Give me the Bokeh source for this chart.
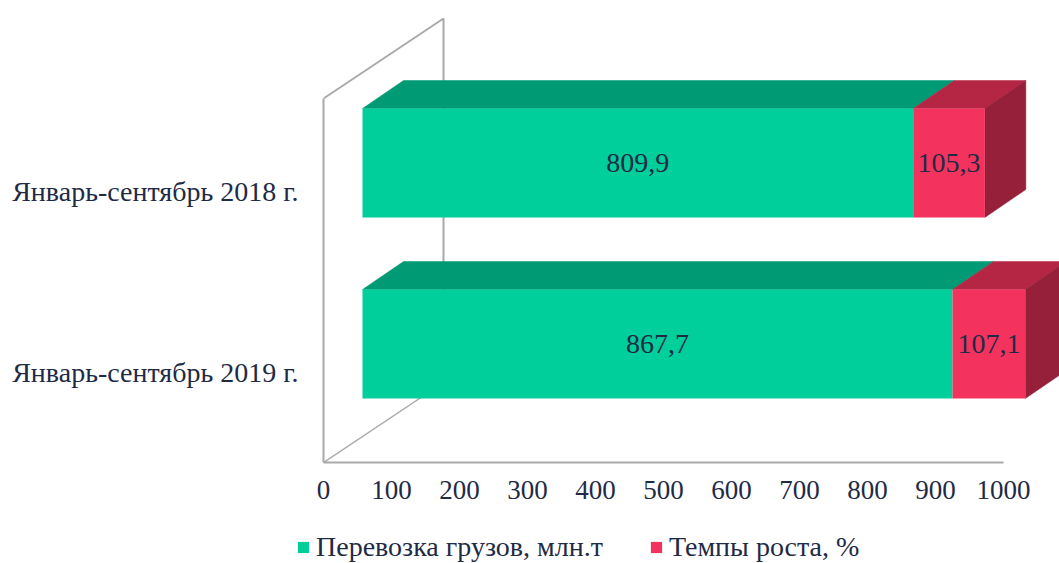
from bokeh.plotting import figure
from bokeh.layouts import column
from bokeh.models import Range1d, FixedTicker, Legend, LegendItem, LinearAxis
from bokeh.core.properties import value
from bokeh.embed import file_html
from bokeh.resources import INLINE

categories = ["Январь-сентябрь 2019 г.", "Январь-сентябрь 2018 г."]
cargo = [867.7, 809.9]
growth = [107.1, 105.3]
series_names = ["Перевозка грузов, млн.т", "Темпы роста, %"]
x_ticks = [0, 100, 200, 300, 400, 500, 600, 700, 800, 900, 1000]

GREEN, GREEN_TOP = "#00CE9B", "#009A75"
RED, RED_TOP, RED_SIDE = "#F3335E", "#B52645", "#961F3A"
WALL = "#A9A9A9"
TEXT = "#1F2B45"
FONT = "Liberation Serif"

PX_PER_X = 0.68
PX_PER_Y = 181.0
W, H = 1059, 563
LEGEND_H = 48
LEFT, BOTTOM = 323, 53
FRAME_W, FRAME_H = W - LEFT, H - LEGEND_H - BOTTOM
Y0 = 343.5  # pixel row of category 0

BAR_H = 109 / PX_PER_Y
SHIFT = 39 / PX_PER_X          # bars stand in the middle of the floor depth
DX = 41 / PX_PER_X             # bar depth
DY = 28 / PX_PER_Y
WALL_DX = 120 / PX_PER_X
WALL_DY = 80 / PX_PER_Y
Y_BOTTOM = (Y0 - FRAME_H) / PX_PER_Y
Y_WALL = (Y0 - 98) / PX_PER_Y

p = figure(frame_width=FRAME_W, frame_height=FRAME_H, output_backend="svg", toolbar_location=None,
           x_range=Range1d(0, FRAME_W / PX_PER_X),
           y_range=Range1d(Y_BOTTOM, Y0 / PX_PER_Y),
           x_axis_location=None, y_axis_location=None,
           min_border_left=LEFT, min_border_bottom=BOTTOM, min_border_top=0, min_border_right=0,
           outline_line_color=None, background_fill_color="white")
p.grid.visible = False

# wall
p.line([0, WALL_DX, WALL_DX], [Y_WALL, Y_WALL + WALL_DY, Y_BOTTOM + WALL_DY], line_color=WALL, line_width=2)
p.line([0, WALL_DX], [Y_BOTTOM, Y_BOTTOM + WALL_DY], line_color=WALL, line_width=1.5)

idx = list(range(len(categories)))
c0 = [SHIFT] * 2
c1 = [SHIFT + v for v in cargo]
c2 = [SHIFT + a + b for a, b in zip(cargo, growth)]
tops = [i + BAR_H / 2 for i in idx]
bots = [i - BAR_H / 2 for i in idx]


def top_face(a, b, t):
    return [a, a + DX, b + DX, b], [t, t + DY, t + DY, t]


tg = [top_face(a, b, t) for a, b, t in zip(c0, c1, tops)]
p.patches([q_[0] for q_ in tg], [q_[1] for q_ in tg], fill_color=GREEN_TOP, line_color=GREEN_TOP, line_width=0.5)
tr = [top_face(a, b, t) for a, b, t in zip(c1, c2, tops)]
p.patches([q_[0] for q_ in tr], [q_[1] for q_ in tr], fill_color=RED_TOP, line_color=RED_TOP, line_width=0.5)
p.patches([[b, b + DX, b + DX, b] for b in c2],
          [[l, l + DY, h + DY, h] for l, h in zip(bots, tops)],
          fill_color=RED_SIDE, line_color=RED_SIDE, line_width=0.5)

p.quad(left=c0, right=c1, bottom=bots, top=tops, fill_color=GREEN, line_color=None)
p.quad(left=c1, right=c2, bottom=bots, top=tops, fill_color=RED, line_color=None)

fmt = lambda v: f"{v:.1f}".replace(".", ",")
p.text(x=[(a + b) / 2 for a, b in zip(c0, c1)], y=idx, text=[fmt(v) for v in cargo],
       text_font=value(FONT), text_font_size="28px", text_color=TEXT,
       text_align="center", text_baseline="middle")
p.text(x=[(a + b) / 2 for a, b in zip(c1, c2)], y=idx, text=[fmt(v) for v in growth],
       text_font=value(FONT), text_font_size="28px", text_color=TEXT,
       text_align="center", text_baseline="middle")

# axes
xa = LinearAxis(ticker=FixedTicker(ticks=x_ticks), bounds=(0, 1000))
xa.axis_line_color = WALL
xa.axis_line_width = 2
xa.major_tick_line_color = None
xa.minor_tick_line_color = None
xa.major_label_standoff = 12
xa.major_label_text_font = FONT
xa.major_label_text_font_size = "27px"
xa.major_label_text_color = TEXT
p.add_layout(xa, "below")

ya = LinearAxis(ticker=FixedTicker(ticks=[i - DY for i in idx]), bounds=(Y_BOTTOM, Y_WALL))
ya.major_label_overrides = {i - DY: c for i, c in zip(idx, categories)}
ya.axis_line_color = WALL
ya.axis_line_width = 2
ya.major_tick_line_color = None
ya.minor_tick_line_color = None
ya.major_label_standoff = 19
ya.major_label_text_font = FONT
ya.major_label_text_font_size = "28px"
ya.major_label_text_color = TEXT
p.add_layout(ya, "left")

# legend strip under the chart
q = figure(width=W, height=LEGEND_H, output_backend="svg", toolbar_location=None,
           x_range=Range1d(0, 1), y_range=Range1d(0, 1),
           x_axis_location=None, y_axis_location=None,
           min_border_left=0, min_border_bottom=0, min_border_top=0, min_border_right=0,
           outline_line_color=None, background_fill_color="white")
q.grid.visible = False
# keys of the legend: their marks lie outside this strip's range
kg = q.quad(left=[2], right=[3], bottom=[2], top=[3], fill_color=GREEN, line_color=None)
kr = q.quad(left=[2], right=[3], bottom=[2], top=[3], fill_color=RED, line_color=None)

legend_x = 296 - LEFT
if "frame_align" in p.properties():
    p.frame_align = False
    q.frame_align = False
    legend_x = 296
legend = Legend(items=[LegendItem(label=series_names[0], renderers=[kg]),
                       LegendItem(label=series_names[1], renderers=[kr])],
                orientation="horizontal", location=(legend_x, 0),
                background_fill_alpha=0, border_line_color=None,
                glyph_width=14, glyph_height=14, label_text_font=FONT,
                label_text_font_size="28px", label_text_color=TEXT, spacing=46,
                padding=0, margin=0, label_standoff=6)
q.add_layout(legend, "center")

page = column(p, q, spacing=0)
open("out.html", "w").write(file_html(page, INLINE))
